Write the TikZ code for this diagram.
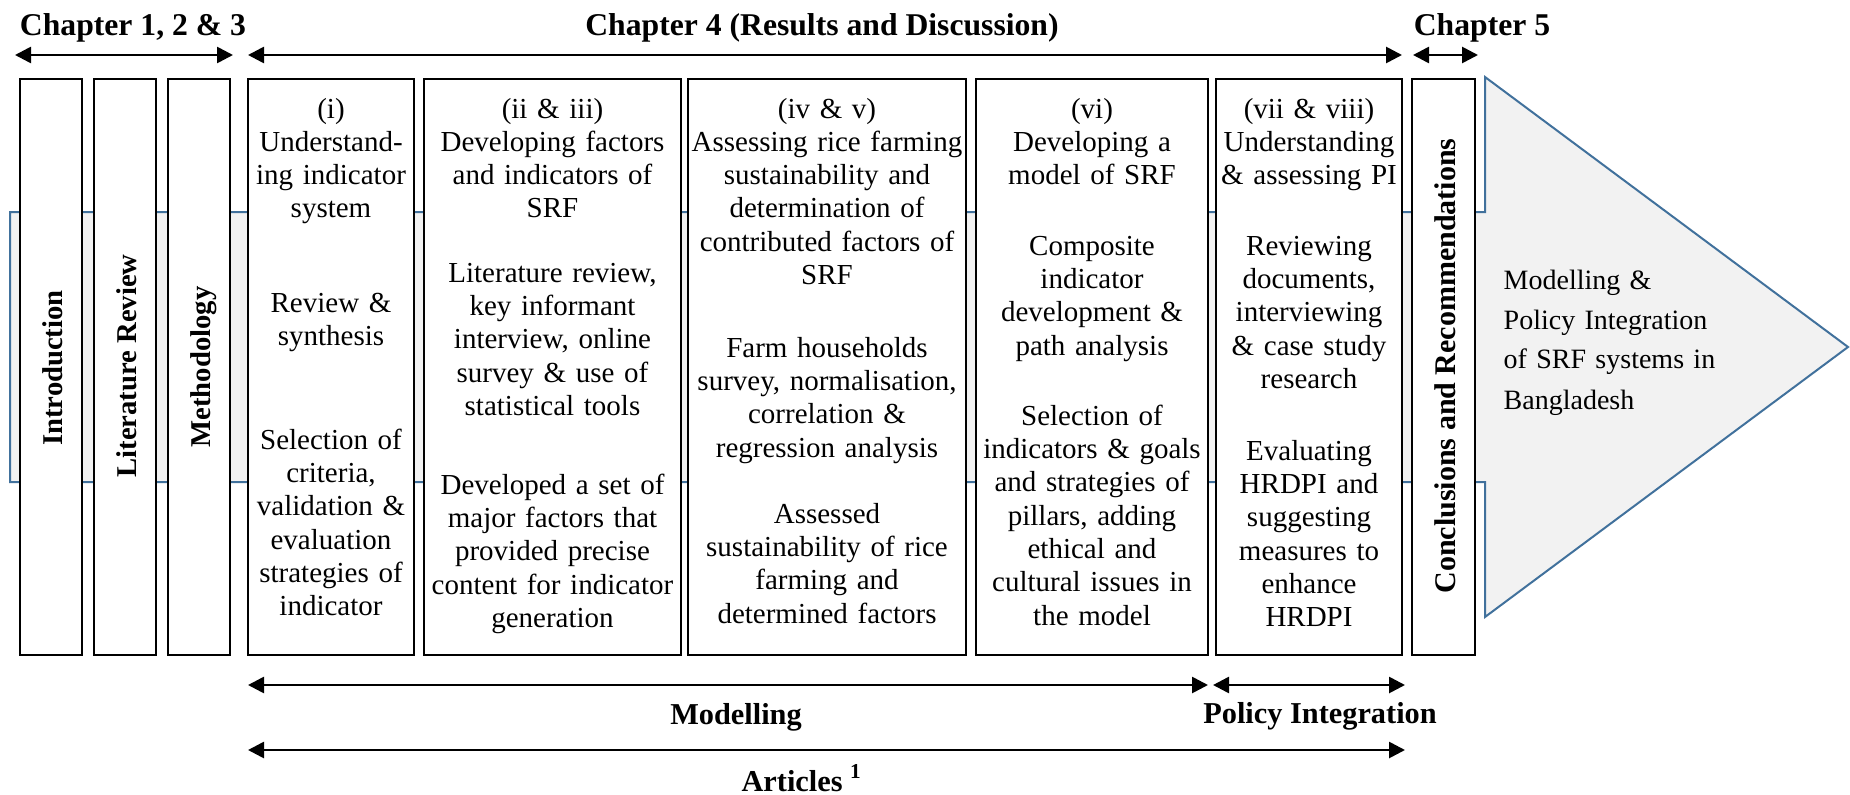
\documentclass[tikz,border=0pt]{standalone}
\usepackage{fontspec}
\setmainfont{Liberation Serif}
\usetikzlibrary{arrows.meta}
\definecolor{bandblue}{RGB}{65,113,156}
\definecolor{bandgrey}{RGB}{242,242,242}
\newcommand\bodyfont{\fontsize{8.7}{10}\selectfont}
\newcommand\headfont{\fontsize{9.5}{11}\selectfont\bfseries}
\newcommand\sidefont{\fontsize{8.6}{10}\selectfont\bfseries}
\newcommand\bandfont{\fontsize{8.4}{12}\selectfont}
\tikzset{
  boxline/.style={draw=black, line width=0.5pt, fill=white},
  bandline/.style={draw=bandblue, line width=0.6pt, fill=bandgrey},
  para/.style={font=\bodyfont, align=center, anchor=base, inner sep=0pt, text width=95pt},
  sidetext/.style={font=\sidefont, rotate=90, anchor=base, inner sep=0pt},
  headtext/.style={font=\headfont, anchor=base, inner sep=0pt},
  span/.style={{Triangle[length=4.8pt,width=4.8pt]}-{Triangle[length=4.8pt,width=4.8pt]}, line width=0.8pt},
}
\begin{document}
\begin{tikzpicture}[x=0.3pt, y=-0.3pt]
\useasboundingbox (0,0) rectangle (1850,795);
% grey arrow behind the chapters
\draw[bandline] (10,212) -- (1485,212) -- (1485,77) -- (1848,347) -- (1485,617) -- (1485,482) -- (10,482) -- cycle;
\foreach \a/\b in {20/82, 94/156, 168/230, 248/414, 424/681, 688/966, 976/1208, 1216/1402, 1412/1475}
  \draw[boxline] (\a,79) rectangle (\b,655);
% chapter headings
\node[headtext] (chone) at (133,36) {Chapter 1, 2 \& 3};
\node[headtext] (chfour) at (822,36) {Chapter 4 (Results and Discussion)};
\node[headtext] (chfive) at (1482,36) {Chapter 5};
\coordinate (onel) at (15,55); \coordinate (oner) at (233,55);
\coordinate (fourl) at (248,55); \coordinate (fourr) at (1402,55);
\coordinate (fivel) at (1413,55); \coordinate (fiver) at (1478,55);
\draw[span] (onel) -- (oner);
\draw[span] (fourl) -- (fourr);
\draw[span] (fivel) -- (fiver);
% side boxes
\node[sidetext] (intro) at (62,368) {Introduction};
\node[sidetext] (litrev) at (136,366) {Literature Review};
\node[sidetext] (method) at (210,367) {Methodology};
\node[sidetext, font=\fontsize{9}{10}\selectfont\bfseries] (concl) at (1455,366) {Conclusions and Recommendations};
% (i)
\node[para] (ia) at (331,118) {(i)\\Understand-\\ing indicator\\system};
\node[para] (ib) at (331,312) {Review \&\\synthesis};
\node[para] (ic) at (331,449) {Selection of\\criteria,\\validation \&\\evaluation\\strategies of\\indicator};
% (ii & iii)
\node[para] (iia) at (552.5,118) {(ii \& iii)\\Developing factors\\and indicators of\\SRF};
\node[para] (iib) at (552.5,282) {Literature review,\\key informant\\interview, online\\survey \& use of\\statistical tools};
\node[para] (iic) at (552.5,494) {Developed a set of\\major factors that\\provided precise\\content for indicator\\generation};
% (iv & v)
\node[para] (iva) at (827,118) {(iv \& v)\\Assessing rice farming\\sustainability and\\determination of\\contributed factors of\\SRF};
\node[para] (ivb) at (827,357) {Farm households\\survey, normalisation,\\correlation \&\\regression analysis};
\node[para] (ivc) at (827,523) {Assessed\\sustainability of rice\\farming and\\determined factors};
% (vi)
\node[para] (via) at (1092,118) {(vi)\\Developing a\\model of SRF};
\node[para] (vib) at (1092,255) {Composite\\indicator\\development \&\\path analysis};
\node[para] (vic) at (1092,425) {Selection of\\indicators \& goals\\and strategies of\\pillars, adding\\ethical and\\cultural issues in\\the model};
% (vii & viii)
\node[para] (viia) at (1309,118) {(vii \& viii)\\Understanding\\\& assessing PI};
\node[para] (viib) at (1309,255) {Reviewing\\documents,\\interviewing\\\& case study\\research};
\node[para] (viic) at (1309,460) {Evaluating\\HRDPI and\\suggesting\\measures to\\enhance\\HRDPI};
% arrow head text
\node[font=\bandfont, align=left, text width=100pt, anchor=base west, inner sep=0pt] (goal) at (1503,289) {Modelling \&\\Policy Integration\\of SRF systems in\\Bangladesh};
% bottom spans
\coordinate (modl) at (248,685); \coordinate (modr) at (1208,685);
\coordinate (pol) at (1213,685); \coordinate (porr) at (1405,685);
\coordinate (artl) at (248,750); \coordinate (artr) at (1405,750);
\draw[span] (modl) -- (modr);
\draw[span] (pol) -- (porr);
\draw[span] (artl) -- (artr);
\node[headtext, font=\fontsize{9.1}{10}\selectfont\bfseries] (modlab) at (736,724) {Modelling};
\node[headtext, font=\fontsize{9.1}{10}\selectfont\bfseries] (pollab) at (1320,723) {Policy Integration};
\node[headtext, font=\fontsize{9.1}{10}\selectfont\bfseries] (artlab) at (802,791) {Articles \textsuperscript{1}};
\end{tikzpicture}
\end{document}
